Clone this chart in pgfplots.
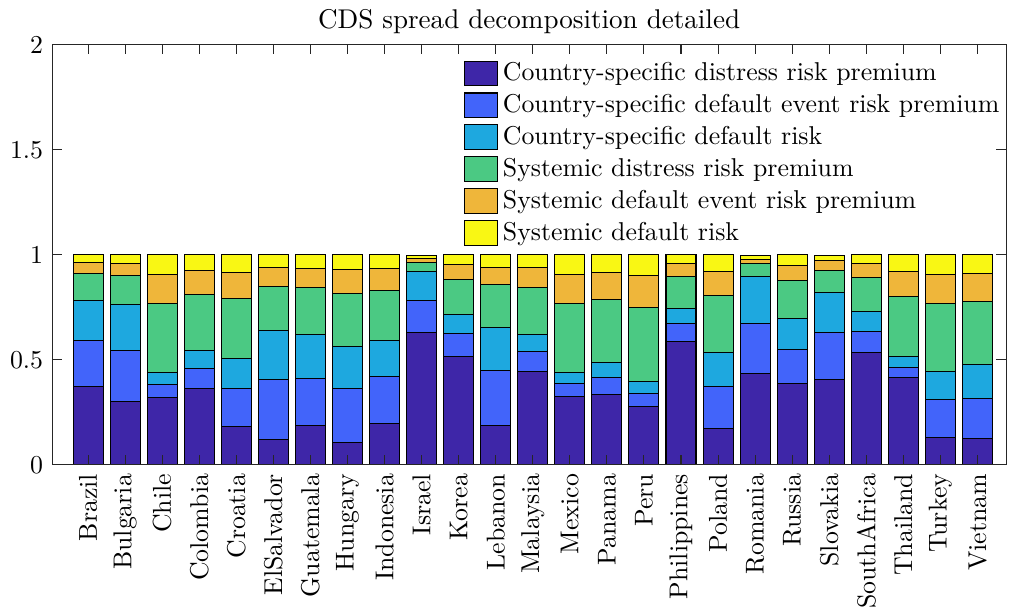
\documentclass[border=0pt]{standalone}
\usepackage{pgfplots}
\usepackage{pgfplotstable}
\pgfplotsset{compat=1.18}
\definecolor{c1}{RGB}{62,38,168}
\definecolor{c2}{RGB}{66,100,250}
\definecolor{c3}{RGB}{30,168,223}
\definecolor{c4}{RGB}{75,201,131}
\definecolor{c5}{RGB}{239,182,58}
\definecolor{c6}{RGB}{249,247,20}
\definecolor{axgray}{RGB}{38,38,38}
\pgfplotsset{patchlegend/.style={legend image code/.code={\draw[##1] (0pt,-4.8pt) rectangle (12.7pt,4.8pt);}}}
\pgfplotstableread{
x a b c d e f
1 0.375 0.219 0.190 0.129 0.052 0.035
2 0.302 0.244 0.216 0.140 0.058 0.040
3 0.322 0.062 0.056 0.330 0.138 0.092
4 0.362 0.097 0.087 0.267 0.114 0.073
5 0.181 0.181 0.146 0.286 0.123 0.083
6 0.119 0.289 0.230 0.210 0.093 0.059
7 0.186 0.227 0.209 0.221 0.094 0.063
8 0.105 0.260 0.200 0.252 0.112 0.071
9 0.198 0.221 0.175 0.238 0.101 0.067
10 0.632 0.149 0.138 0.046 0.019 0.013
11 0.514 0.111 0.092 0.167 0.068 0.048
12 0.189 0.262 0.201 0.205 0.085 0.059
13 0.443 0.095 0.081 0.224 0.097 0.060
14 0.327 0.059 0.052 0.329 0.141 0.092
15 0.333 0.081 0.075 0.300 0.128 0.083
16 0.279 0.062 0.054 0.354 0.151 0.100
17 0.586 0.085 0.072 0.152 0.062 0.043
18 0.173 0.200 0.160 0.275 0.114 0.078
19 0.437 0.238 0.223 0.059 0.022 0.016
20 0.387 0.164 0.147 0.178 0.075 0.049
21 0.408 0.224 0.189 0.104 0.046 0.026
22 0.533 0.104 0.092 0.161 0.067 0.043
23 0.414 0.051 0.049 0.288 0.120 0.078
24 0.132 0.178 0.133 0.324 0.141 0.092
25 0.124 0.193 0.161 0.301 0.134 0.087
}\datatable
\begin{document}
\begin{tikzpicture}
\begin{axis}[
  scale only axis,
  width=369.8pt, height=162.8pt,
  ybar stacked, bar shift=0pt, bar width=0.81,
  xmin=0.03, xmax=25.77, ymin=0, ymax=2,
  xtick={1,...,25},
  xticklabels={Brazil,Bulgaria,Chile,Colombia,Croatia,ElSalvador,Guatemala,Hungary,Indonesia,Israel,Korea,Lebanon,Malaysia,Mexico,Panama,Peru,Philippines,Poland,Romania,Russia,Slovakia,SouthAfrica,Thailand,Turkey,Vietnam},
  xticklabel style={rotate=90, anchor=east, font=\fontsize{10}{12}\selectfont},
  ytick={0,0.5,1,1.5,2},
  yticklabels={0,0.5,1,1.5,2},
  yticklabel style={font=\fontsize{10}{12}\selectfont},
  tick align=inside, major tick length=3.7pt,
  tick style={axgray, line width=0.4pt},
  axis line style={axgray, line width=0.4pt},
  axis on top,
  title={CDS spread decomposition detailed},
  title style={font=\fontsize{10.5}{12.5}\selectfont, at={(0.5,1)}, anchor=south, yshift=-5.1pt},
  legend cell align=left,
  legend style={draw=none, fill=none, at={(1,1)}, anchor=north east, xshift=-0.4pt, yshift=-4.6pt,
    inner xsep=0pt, inner ysep=0pt, row sep=-0.17pt, font=\fontsize{10}{12}\selectfont},
  every axis plot/.append style={draw=black, line width=0.4pt},
]
\addplot[fill=c1, patchlegend] table[x=x,y=a]{\datatable};
\addplot[fill=c2, patchlegend] table[x=x,y=b]{\datatable};
\addplot[fill=c3, patchlegend] table[x=x,y=c]{\datatable};
\addplot[fill=c4, patchlegend] table[x=x,y=d]{\datatable};
\addplot[fill=c5, patchlegend] table[x=x,y=e]{\datatable};
\addplot[fill=c6, patchlegend] table[x=x,y=f]{\datatable};
\legend{Country-specific distress risk premium,Country-specific default event risk premium,Country-specific default risk,Systemic distress risk premium,Systemic default event risk premium,Systemic default risk}
\coordinate (ll) at (rel axis cs:0,0);
\coordinate (ur) at (rel axis cs:1,1);
\end{axis}
\pgfresetboundingbox
\path ([shift={(-20.2pt,-55.8pt)}]ll) rectangle ([shift={(3.1pt,17.4pt)}]ur);
\end{tikzpicture}
\end{document}
